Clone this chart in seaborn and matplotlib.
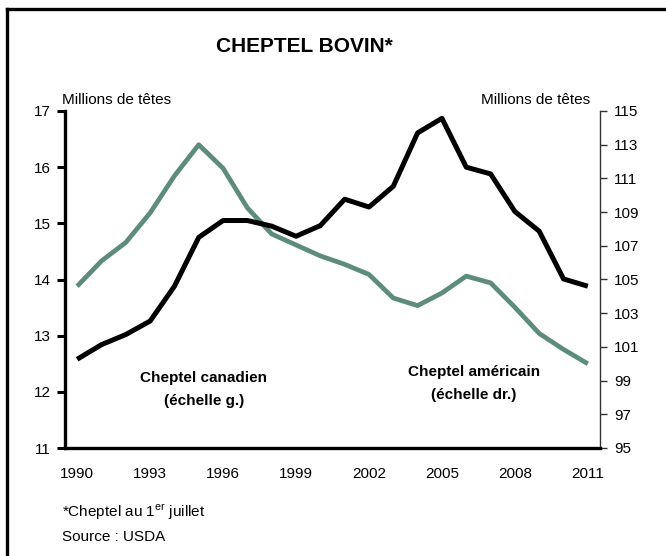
import matplotlib
matplotlib.use("Agg")
import matplotlib.pyplot as plt
import seaborn as sns
import pandas as pd
from matplotlib.lines import Line2D

years = list(range(1990, 2012))
# Canadian herd, millions of head (left scale)
canada = [12.58, 12.84, 13.02, 13.26, 13.88, 14.75, 15.05, 15.05, 14.95, 14.77, 14.96,
          15.43, 15.29, 15.66, 16.61, 16.87, 16.00, 15.88, 15.21, 14.86, 14.01, 13.88]
# US herd, millions of head (right scale)
usa = [104.6, 106.1, 107.2, 108.95, 111.15, 113.0, 111.6, 109.25, 107.7, 107.05, 106.4,
       105.9, 105.3, 103.9, 103.45, 104.2, 105.2, 104.8, 103.35, 101.8, 100.85, 100.0]
left_ticks = [11, 12, 13, 14, 15, 16, 17]
right_ticks = [95, 97, 99, 101, 103, 105, 107, 109, 111, 113, 115]
year_ticks = [1990, 1993, 1996, 1999, 2002, 2005, 2008, 2011]

df = pd.DataFrame({"annee": years, "canada": canada, "usa": usa})

sns.set_theme(style="white")
plt.rcParams["font.family"] = ["Liberation Sans", "DejaVu Sans"]
plt.rcParams["mathtext.fontset"] = "custom"
plt.rcParams["mathtext.rm"] = "Liberation Sans"
for key in ("text.color", "axes.labelcolor", "xtick.color", "ytick.color",
            "xtick.labelcolor", "ytick.labelcolor"):
    plt.rcParams[key] = "black"

fig = plt.figure(figsize=(6.66, 5.56), dpi=100)
ax = fig.add_axes([65 / 666, 1 - 448 / 556, 535 / 666, 337 / 556])
ax2 = ax.twinx()

green = "#5e8c7a"
sns.lineplot(data=df, x="annee", y="usa", ax=ax2, color=green, linewidth=3.4,
             solid_capstyle="butt")
sns.lineplot(data=df, x="annee", y="canada", ax=ax, color="black", linewidth=3.6,
             solid_capstyle="butt")
ax.set_zorder(ax2.get_zorder() + 1)
ax.patch.set_visible(False)

ax.set_xlim(1989.5, 2011.5)
ax.set_ylim(11, 17)
ax2.set_ylim(95, 115)
ax.set_yticks(left_ticks)
ax2.set_yticks(right_ticks)
ax.set_xticks(year_ticks)
ax.set_xticklabels([str(y) for y in year_ticks])
ax.set_xlabel("")
ax.set_ylabel("")
ax2.set_ylabel("")

for a in (ax, ax2):
    for s in a.spines.values():
        s.set_visible(False)
ax.spines["left"].set_visible(True)
ax.spines["left"].set_linewidth(2.4)
ax.spines["left"].set_color("black")
ax.spines["bottom"].set_visible(True)
ax.spines["bottom"].set_linewidth(2.4)
ax.spines["bottom"].set_color("black")
ax2.spines["right"].set_visible(True)
ax2.spines["right"].set_linewidth(1.0)
ax2.spines["right"].set_color("#333333")

ax.tick_params(axis="y", direction="out", length=6, width=2.2, color="black",
               labelsize=11, pad=4, left=True, labelcolor="black")
ax.tick_params(axis="x", length=0, labelsize=11, pad=14, labelcolor="black")
ax2.tick_params(axis="y", direction="out", length=5, width=1.0, color="#333333",
                labelsize=11, pad=5, right=True, labelcolor="black")

fig.text(304 / 666, 1 - 47 / 556, "CHEPTEL BOVIN*", ha="center", va="center",
         fontsize=15, fontweight="bold", color="black")
fig.text(62 / 666, 1 - 100 / 556, "Millions de têtes", ha="left", va="center",
         fontsize=11, color="black")
fig.text(590 / 666, 1 - 100 / 556, "Millions de têtes", ha="right", va="center",
         fontsize=11, color="black")

fig.text(204 / 666, 1 - 378 / 556, "Cheptel canadien", ha="center", va="center",
         fontsize=11, fontweight="bold", color="black")
fig.text(204 / 666, 1 - 401 / 556, "(échelle g.)", ha="center", va="center",
         fontsize=11, fontweight="bold", color="black")
fig.text(474 / 666, 1 - 372 / 556, "Cheptel américain", ha="center", va="center",
         fontsize=11, fontweight="bold", color="black")
fig.text(474 / 666, 1 - 395 / 556, "(échelle dr.)", ha="center", va="center",
         fontsize=11, fontweight="bold", color="black")

fig.text(62 / 666, 1 - 512 / 556, r"*Cheptel au 1$^{\mathrm{er}}$ juillet", ha="left",
         va="center", fontsize=11, color="black")
fig.text(62 / 666, 1 - 537 / 556, "Source : USDA", ha="left", va="center",
         fontsize=11, color="black")

# frame around the chart
fig.add_artist(Line2D([7 / 666, 7 / 666], [0, 1 - 9 / 556], transform=fig.transFigure,
                      color="black", linewidth=2.4, solid_capstyle="projecting"))
fig.add_artist(Line2D([7 / 666, 1], [1 - 9 / 556, 1 - 9 / 556], transform=fig.transFigure,
                      color="black", linewidth=2.4, solid_capstyle="projecting"))

fig.savefig("out.png", dpi=100)
